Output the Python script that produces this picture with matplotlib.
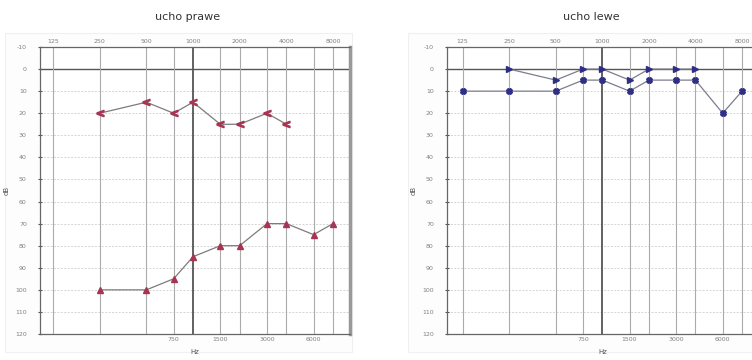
import numpy as np
import matplotlib.pyplot as plt
from matplotlib.patches import Rectangle
from matplotlib.transforms import blended_transform_factory

# grid frequencies (Hz) and hearing levels (dB)
freq_top = [125, 250, 500, 1000, 2000, 4000, 8000]
freq_bottom = [750, 1500, 3000, 6000]
db_ticks = [-10, 0, 10, 20, 30, 40, 50, 60, 70, 80, 90, 100, 110, 120]

# right ear
right_bone_f = [250, 500, 750, 1000, 1500, 2000, 3000, 4000]
right_bone_db = [20, 15, 20, 15, 25, 25, 20, 25]
right_air_f = [250, 500, 750, 1000, 1500, 2000, 3000, 4000, 6000, 8000]
right_air_db = [100, 100, 95, 85, 80, 80, 70, 70, 75, 70]

# left ear
left_bone_f = [250, 500, 750, 1000, 1500, 2000, 3000, 4000]
left_bone_db = [0, 5, 0, 0, 5, 0, 0, 0]
left_air_f = [125, 250, 500, 750, 1000, 1500, 2000, 3000, 4000, 6000, 8000]
left_air_db = [10, 10, 10, 5, 5, 10, 5, 5, 5, 20, 10]

W, H = 752, 360
fig = plt.figure(figsize=(W / 100, H / 100), dpi=100)


def frame(x0, y0, x1, y1):
    fig.patches.append(Rectangle((x0 / W, 1 - y1 / H), (x1 - x0) / W, (y1 - y0) / H,
                                 transform=fig.transFigure, facecolor='#fdfdfd',
                                 edgecolor='#f0f0f0', lw=0.8, zorder=-5))


def setup(ax, xlim, right_spine):
    ax.set_xscale('log')
    ax.set_xlim(*xlim)
    ax.set_ylim(120, -10)
    ax.set_facecolor('white')
    ax.minorticks_off()
    ax.set_xticks([])
    ax.set_yticks(db_ticks)
    ax.set_yticklabels([str(v) for v in db_ticks], fontsize=4.5, color='#808080')
    ax.tick_params(axis='y', direction='inout', length=3, width=0.8, color='#555', pad=8)
    for v in db_ticks[1:-1]:
        ax.axhline(v, color='#d4d4d4', lw=0.7, ls=(0, (2, 1.5)), zorder=0)
    ax.axhline(0, color='#555', lw=1.0, zorder=1)
    for f in freq_top + freq_bottom:
        if f == 1000:
            ax.axvline(f, color='#555', lw=1.3, zorder=1)
        else:
            ax.axvline(f, color='#ababab', lw=0.8, zorder=1)
    for s in ['left', 'top', 'bottom']:
        ax.spines[s].set_color('#666')
        ax.spines[s].set_linewidth(0.9)
    ax.spines['right'].set_color('#999')
    ax.spines['right'].set_linewidth(right_spine)
    tr = blended_transform_factory(ax.transData, ax.transAxes)
    for f in freq_top:
        ax.text(f, 1.012, str(f), transform=tr, ha='center', va='bottom',
                fontsize=4.5, color='#808080')
    for f in freq_bottom:
        ax.text(f, -0.012, str(f), transform=tr, ha='center', va='top',
                fontsize=4.5, color='#808080')
    ax.set_ylabel('dB', fontsize=5, color='#555', labelpad=4)
    ax.set_xlabel('Hz', fontsize=5, color='#555', labelpad=11)


# right ear panel
frame(5, 33, 352, 352)
ax1 = fig.add_axes([40 / W, 1 - 334 / H, 310 / W, 287 / H])
setup(ax1, (103, 10300), 2.5)
ax1.plot(right_bone_f, right_bone_db, color='#7c7c7c', lw=0.9, zorder=3,
         marker=r'$\mathbf{<}$', ms=5, mfc='#a83454', mec='#a83454', mew=1.0)
ax1.plot(right_air_f, right_air_db, color='#7c7c7c', lw=0.9, zorder=3,
         marker='^', ms=4, mfc='#a83454', mec='#a83454')

# left ear panel
frame(408, 33, 752, 352)
ax2 = fig.add_axes([447 / W, 1 - 334 / H, 312 / W, 287 / H])
setup(ax2, (99, 10300), 0.8)
ax2.plot(left_bone_f, left_bone_db, color='#7c7c90', lw=0.9, zorder=3,
         marker='>', ms=4, mfc='#2e2e86', mec='#2e2e86')
ax2.plot(left_air_f, left_air_db, color='#7c7c90', lw=0.9, zorder=3,
         marker='X', ms=4, mfc='#2e2e86', mec='#2e2e86')

fig.text(188 / W, 1 - 17 / H, 'ucho prawe', ha='center', va='center',
         fontsize=8, color='#333')
fig.text(591 / W, 1 - 17 / H, 'ucho lewe', ha='center', va='center',
         fontsize=8, color='#333')

fig.savefig('out.png', dpi=100)
